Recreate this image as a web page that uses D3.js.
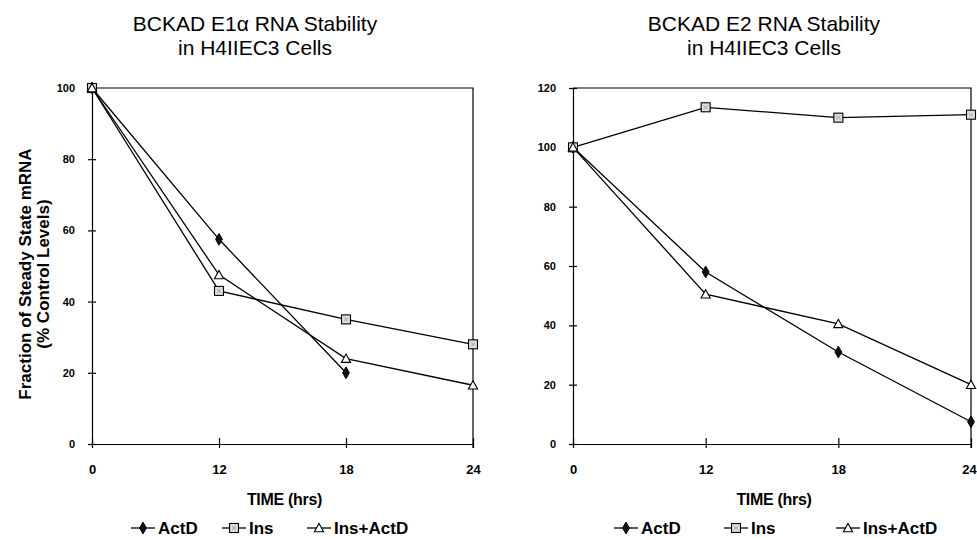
<!DOCTYPE html>
<html>
<head>
<meta charset="utf-8">
<script src="https://cdn.jsdelivr.net/npm/d3@7"></script>
<style>
  body { margin: 0; background: #fff; }
  svg { display: block; font-family: Arial, "Liberation Sans", sans-serif; }
  .tick text { font-weight: bold; font-size: 11px; fill: #000; }
  .domain, .tick line { stroke: #000; stroke-width: 1.2; }
</style>
</head>
<body>
<svg id="chart" width="977" height="540"></svg>
<script>
let times = ["0", "12", "18", "24"];
let seriesNames = ["ActD", "Ins", "Ins+ActD"];

// left panel: E1 alpha
let e1ActD = [100, 57.5, 20];
let e1Ins = [100, 43, 35, 28];
let e1InsActD = [100, 47.5, 24, 16.5];

// right panel: E2
let e2ActD = [100, 58, 31, 7.5];
let e2Ins = [100, 113.5, 110, 111];
let e2InsActD = [100, 50.5, 40.5, 20];

let panels = [
    {title: ["BCKAD E1\u03B1 RNA Stability", "in H4IIEC3 Cells"], titleX: 255,
     left: 92, right: 473, yMax: 100, yTicks: [0, 20, 40, 60, 80, 100],
     series: [e1ActD, e1Ins, e1InsActD],
     legend: [131, 222, 307]},
    {title: ["BCKAD E2 RNA Stability", "in H4IIEC3 Cells"], titleX: 764,
     left: 573, right: 971, yMax: 120, yTicks: [0, 20, 40, 60, 80, 100, 120],
     series: [e2ActD, e2Ins, e2InsActD],
     legend: [614, 724, 836]},
];

let plotTop = 88, plotBottom = 444;
let svg = d3.select('#chart');

function marker(g, kind) {
    if (kind == 0) {
        g.append('path').attr('d', d3.symbol(d3.symbolDiamond, 40)())
            .attr('fill', '#111').attr('stroke', '#000').attr('stroke-width', 1);
    } else if (kind == 1) {
        g.append('rect').attr('x', -4.5).attr('y', -4.5).attr('width', 9).attr('height', 9)
            .attr('fill', '#ddd').attr('stroke', '#000').attr('stroke-width', 1.1);
        g.append('path').attr('d', 'M-2,-2L2,2M2,-2L-2,2')
            .attr('stroke', '#999').attr('stroke-width', 0.8);
    } else {
        g.append('path').attr('d', 'M0,-4.5L4.6,3.8L-4.6,3.8Z')
            .attr('fill', '#fff').attr('stroke', '#000').attr('stroke-width', 1.1);
    }
}

for (let p of panels) {
    let x = d3.scalePoint().domain(times).range([p.left, p.right]);
    let y = d3.scaleLinear().domain([0, p.yMax]).range([plotBottom, plotTop]);
    let g = svg.append('g');

    // frame: top and right
    g.append('path')
        .attr('d', `M${p.left},${plotTop}H${p.right}V${plotBottom + 4}`)
        .attr('fill', 'none').attr('stroke', '#000').attr('stroke-width', 1.2);

    let yAxis = g.append('g')
        .attr('transform', `translate(${p.left},0)`)
        .call(d3.axisLeft(y).tickValues(p.yTicks).tickSize(4).tickPadding(13));
    yAxis.selectAll('.tick line').attr('x1', 4);

    let xAxis = g.append('g')
        .attr('transform', `translate(0,${plotBottom})`)
        .call(d3.axisBottom(x).tickSize(4).tickPadding(17).tickSizeOuter(0));
    xAxis.selectAll('.tick line').attr('y1', -6);
    xAxis.selectAll('.tick text').style('font-size', '13px');
    // keep the last label inside the page edge
    if (p.right > 960) xAxis.selectAll('.tick text').filter(d => d == "24").attr('dx', -2);

    // titles
    g.append('text').attr('x', p.titleX).attr('y', 31).attr('text-anchor', 'middle')
        .attr('font-size', 21).text(p.title[0]);
    g.append('text').attr('x', p.titleX).attr('y', 55).attr('text-anchor', 'middle')
        .attr('font-size', 21).text(p.title[1]);
    g.append('text').attr('x', (p.left + p.right) / 2 + 2).attr('y', 505).attr('text-anchor', 'middle')
        .attr('font-size', 16).attr('font-weight', 'bold').attr('letter-spacing', -0.3)
        .text('TIME (hrs)');

    let line = d3.line().x((d, i) => x(times[i])).y(d => y(d));
    p.series.forEach((vals, k) => {
        g.append('path').datum(vals).attr('d', line)
            .attr('fill', 'none').attr('stroke', '#000').attr('stroke-width', 1.3);
    });
    p.series.forEach((vals, k) => {
        vals.forEach((v, i) => {
            let m = g.append('g').attr('transform', `translate(${x(times[i])},${y(v)})`);
            marker(m, k);
        });
    });

    // legend
    seriesNames.forEach((name, k) => {
        let lx = p.legend[k];
        g.append('line').attr('x1', lx).attr('x2', lx + 24).attr('y1', 528).attr('y2', 528)
            .attr('stroke', '#000').attr('stroke-width', 1.3);
        let m = g.append('g').attr('transform', `translate(${lx + 12},528)`);
        marker(m, k);
        g.append('text').attr('x', lx + 27).attr('y', 534).attr('font-size', 17)
            .attr('font-weight', 'bold').text(name);
    });
}

// shared y title on the left panel
let yt = svg.append('g').attr('transform', 'translate(31,274) rotate(-90)');
yt.append('text').attr('text-anchor', 'middle').attr('font-size', 17).attr('font-weight', 'bold')
    .text('Fraction of Steady State mRNA');
yt.append('text').attr('y', 18).attr('text-anchor', 'middle').attr('font-size', 17).attr('font-weight', 'bold')
    .text('(% Control Levels)');
</script>
</body>
</html>
